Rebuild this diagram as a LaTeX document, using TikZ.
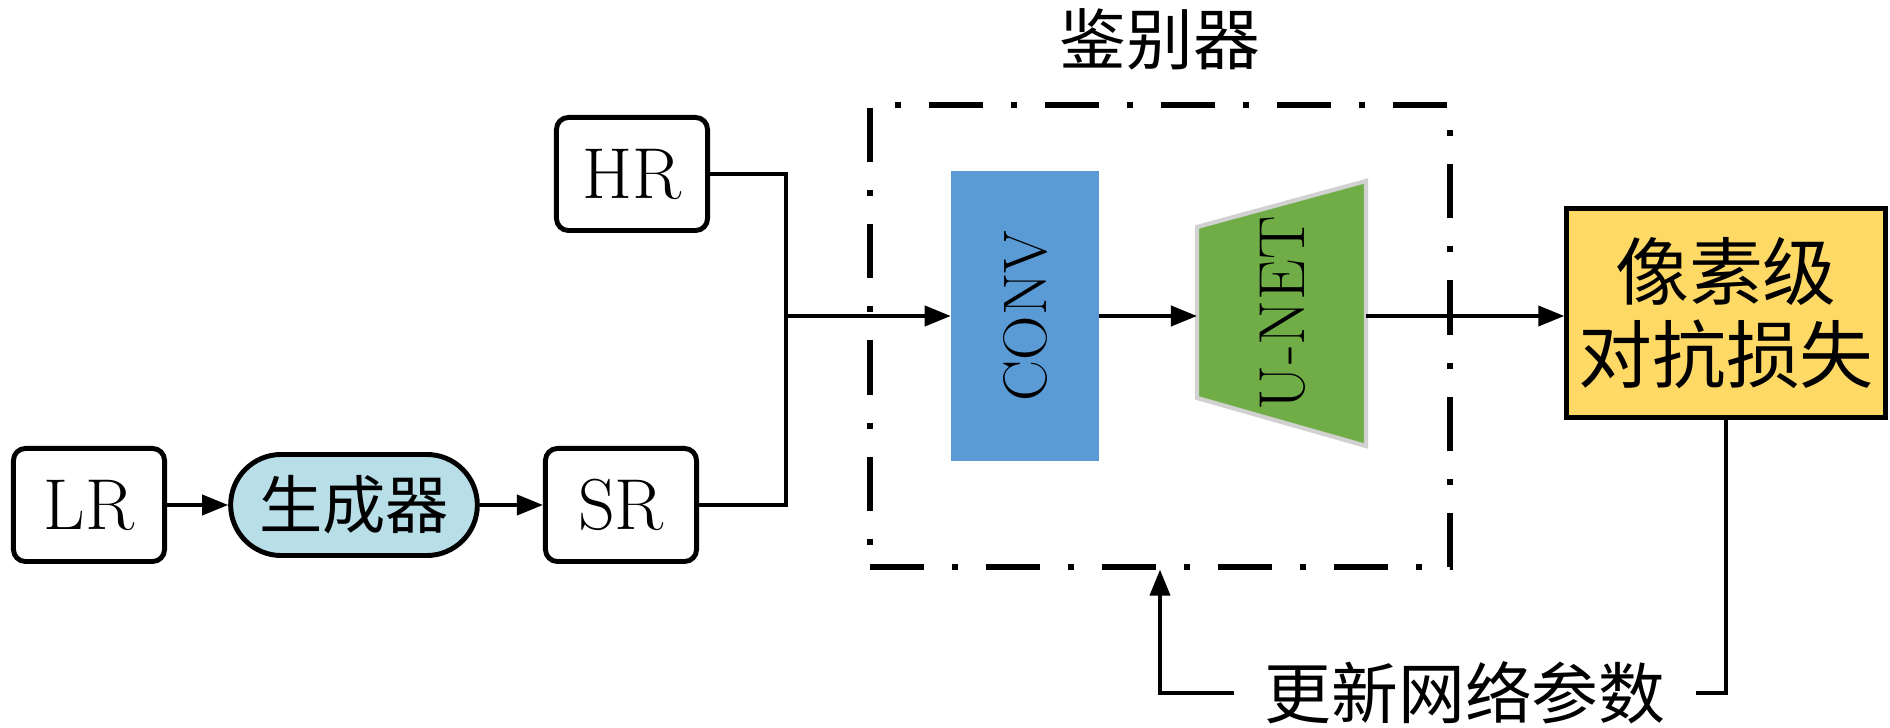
\documentclass[tikz,border=0pt]{standalone}
\usepackage{fontspec}
\newfontfamily\cjk{Noto Sans CJK SC}
\usetikzlibrary{arrows.meta,shapes.misc}
\definecolor{convblue}{RGB}{91,155,213}
\definecolor{unetgreen}{RGB}{112,173,71}
\definecolor{lossyellow}{RGB}{255,217,102}
\definecolor{genblue}{RGB}{184,222,232}

\begin{document}
\begin{tikzpicture}[x=0.01cm,y=-0.01cm,
  img/.style={draw,line width=1.4pt,rounded corners=0.12cm,minimum width=1.51cm,minimum height=1.13cm,font=\fontsize{20.5}{24}\selectfont},
  cjktext/.style={font=\cjk\fontsize{#1}{#1}\selectfont},
  wire/.style={line width=1.1pt},
  arr/.style={line width=1.1pt,-{Triangle[length=0.26cm,width=0.2cm]}}]
\useasboundingbox (0,0) rectangle (1890,728);

% discriminator frame
\node[draw,line width=1.7pt,dash pattern=on 0.54cm off 0.28cm on 0.06cm off 0.28cm,
  minimum width=5.8cm,minimum height=4.61cm] (disc) at (1160,336) {};
\node[cjktext=19] (title) at (1160,39) {鉴别器};

\node[img] (LR) at (89,505) {LR};
\node[draw,fill=genblue,rounded rectangle,line width=1.4pt,minimum width=2.7cm,
  minimum height=1.01cm,cjktext=18] (gen) at (354,505) {生成器};
\node[img] (SR) at (621,505) {SR};
\node[img] (HR) at (632,174) {HR};

\coordinate (J) at (786,316);

\node[fill=convblue,minimum width=1.47cm,minimum height=2.9cm,
  font=\fontsize{17.5}{20}\selectfont] (CONV) at (1025,316) {\rotatebox{90}{CONV}};

% U-NET trapezoid
\coordinate (unetin) at (1197,316);
\coordinate (unetout) at (1366,316);
\draw[fill=unetgreen,draw=black!18,line width=1.2pt]
  (1197,227) -- (1366,181) -- (1366,446) -- (1197,398) -- cycle;
\node[font=\fontsize{18.5}{20}\selectfont] (UNET) at (1283,313) {\rotatebox{90}{U-NET}};

\node[draw,fill=lossyellow,line width=1.3pt,minimum width=3.11cm,minimum height=2.09cm,
  align=center,font=\cjk\fontsize{21}{23.5}\selectfont] (loss) at (1726,313) {像素级\\对抗损失};

\node[cjktext=19,inner xsep=0.3cm] (upd) at (1465,693) {更新网络参数};

\draw[arr] (LR) -- (gen);
\draw[arr] (gen) -- (SR);
\draw[wire] (HR.east) -| (J) |- (SR.east);
\draw[arr] (J) -- (CONV.west);
\draw[arr] (CONV.east) -- (unetin);
\draw[arr] (unetout) -- (unetout -| loss.west);
\draw[wire] (loss.south) |- (upd.east);
\draw[arr] (upd.west) -| (disc.south);
\end{tikzpicture}
\end{document}
